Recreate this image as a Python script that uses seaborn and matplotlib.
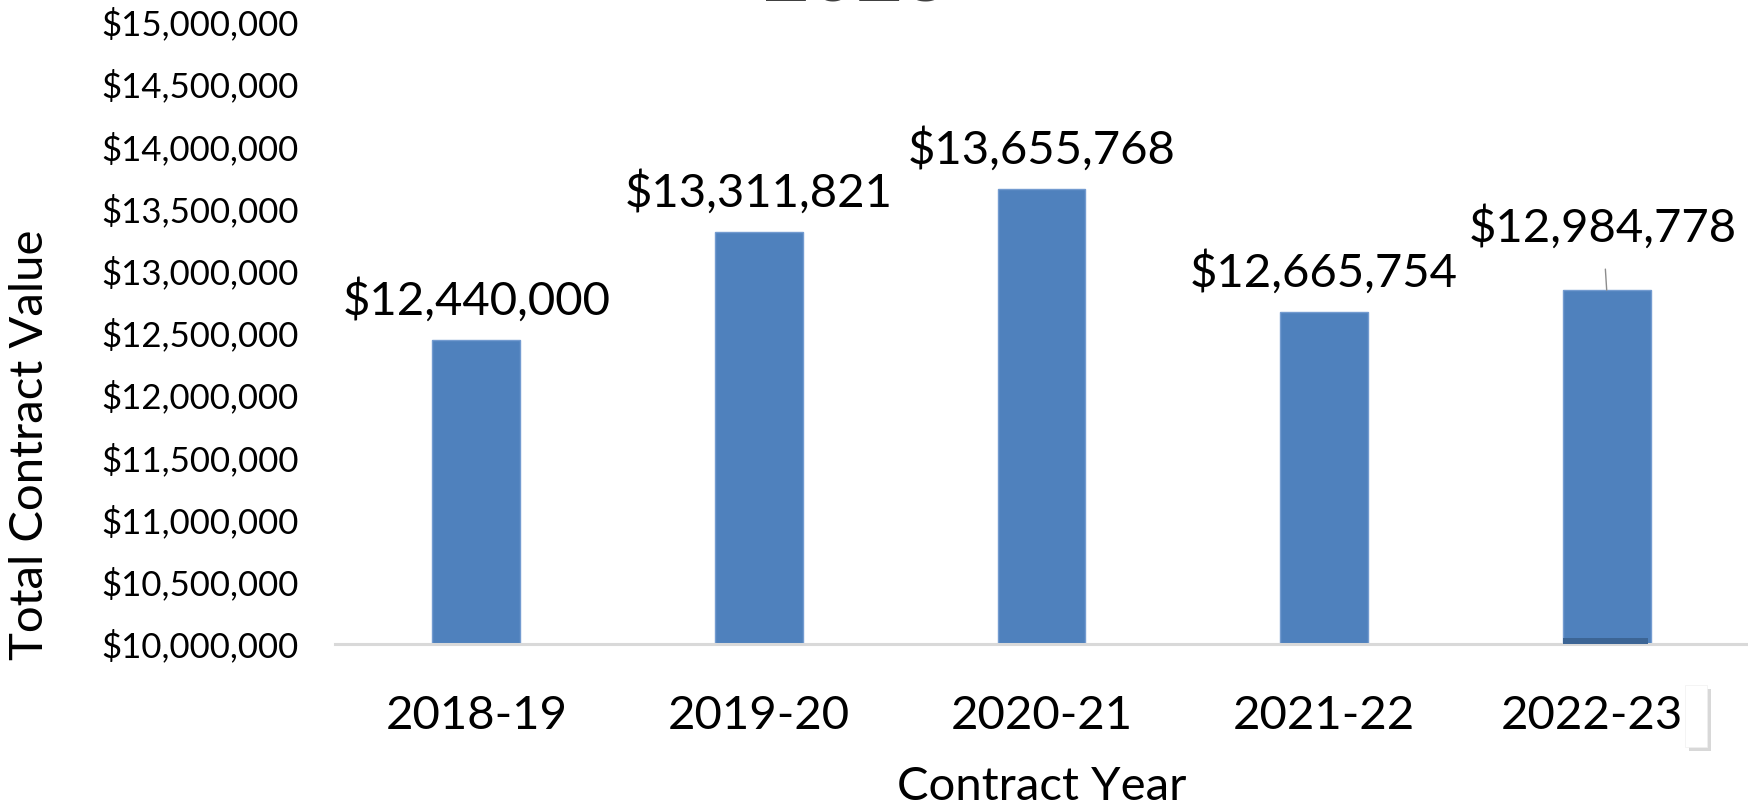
import numpy as np
import pandas as pd
import seaborn as sns
import matplotlib.pyplot as plt
import matplotlib.transforms as mtrans
from matplotlib.patches import Rectangle
from matplotlib.ticker import FuncFormatter

# ----------------------------------------------------------------
# data
# ----------------------------------------------------------------
years = ["2018-19", "2019-20", "2020-21", "2021-22", "2022-23"]
contract_values = [12440000, 13311821, 13655768, 12665754, 12840000]
value_labels = ["$12,440,000", "$13,311,821", "$13,655,768", "$12,665,754", "$12,984,778"]
y_ticks = [10000000, 10500000, 11000000, 11500000, 12000000, 12500000,
           13000000, 13500000, 14000000, 14500000, 15000000]
title_text = "2023"

df = pd.DataFrame({"year": years, "value": contract_values})

sns.set_theme(style="white")
plt.rcParams["font.family"] = ["Lato", "DejaVu Sans"]

W, H = 1748, 808
fig = plt.figure(figsize=(W / 100, H / 100), dpi=100)
ax_left, ax_top, ax_bottom = 335, 21.5, 643.5
ax = fig.add_axes([ax_left / W, 1 - ax_bottom / H, 1 - ax_left / W, (ax_bottom - ax_top) / H])

bar_color = "#4F81BD"
sns.barplot(data=df, x="year", y="value", color=bar_color, saturation=1,
            width=0.31, edgecolor="#739bd0", linewidth=1, ax=ax)

ax.set_ylim(y_ticks[0], y_ticks[-1])
ax.set_xlim(-0.5, len(years) - 0.5)
ax.set_yticks(y_ticks)
ax.yaxis.set_major_formatter(FuncFormatter(lambda v, p: "${:,.0f}".format(v)))
ax.tick_params(axis="y", length=0, pad=26, labelsize=25, labelcolor="black")
ax.tick_params(axis="x", length=0, pad=37, labelsize=34, labelcolor="black")

for side in ["left", "right", "top"]:
    ax.spines[side].set_visible(False)
ax.spines["bottom"].set_color("#d9d9d9")
ax.spines["bottom"].set_linewidth(2.2)

ax.set_xlabel("Contract Year", fontsize=34, color="black", labelpad=21)
ax.set_ylabel("Total Contract Value", fontsize=34, color="black")
ax.yaxis.label.set_va("center")
ax.yaxis.set_label_coords(-0.216, (ax_bottom - 445) / (ax_bottom - ax_top))

# nudge the last year label a bit left, like the original
last_tick = ax.get_xticklabels()[-1]
last_tick.set_transform(last_tick.get_transform()
                        + mtrans.ScaledTranslation(-15 / 100, 0, fig.dpi_scale_trans))

# value labels
bars = ax.patches
for i, (bar, txt) in enumerate(zip(bars, value_labels)):
    cx = bar.get_x() + bar.get_width() / 2
    top = bar.get_height()
    if i == len(bars) - 1:
        # last label sits higher with a leader line down to the bar
        ax.annotate(txt, xy=(cx, top), xytext=(-4, 49), textcoords="offset pixels",
                    ha="center", va="baseline", fontsize=34, color="black",
                    arrowprops=dict(arrowstyle="-", color="#8c8c8c", lw=1,
                                    shrinkA=12, shrinkB=0))
    else:
        ax.annotate(txt, xy=(cx, top), xytext=(0, 25), textcoords="offset pixels",
                    ha="center", va="baseline", fontsize=34, color="black")

# darker strip at the foot of the last bar
last = bars[-1]
ax.add_patch(Rectangle((last.get_x(), y_ticks[0]), last.get_width() * 0.97, 45000,
                       facecolor="#3c6595", edgecolor="none", zorder=3))

# title mostly cut off at the top of the image
fig.text(856 / W, 1 - 1.5 / H, title_text, ha="center", va="baseline",
         fontsize=58, fontweight="bold", color="#404040")

# small white box with a shadow near the last year label
fig.patches.append(Rectangle((1689 / W, 1 - 751 / H), 22 / W, 62 / H,
                             transform=fig.transFigure, facecolor="#bfbfbf",
                             edgecolor="none", alpha=0.6, zorder=1))
fig.patches.append(Rectangle((1685 / W, 1 - 747 / H), 22 / W, 62 / H,
                             transform=fig.transFigure, facecolor="white",
                             edgecolor="#f0f0f0", linewidth=0.5, zorder=2))

fig.savefig("out.png", dpi=100, facecolor="white")
